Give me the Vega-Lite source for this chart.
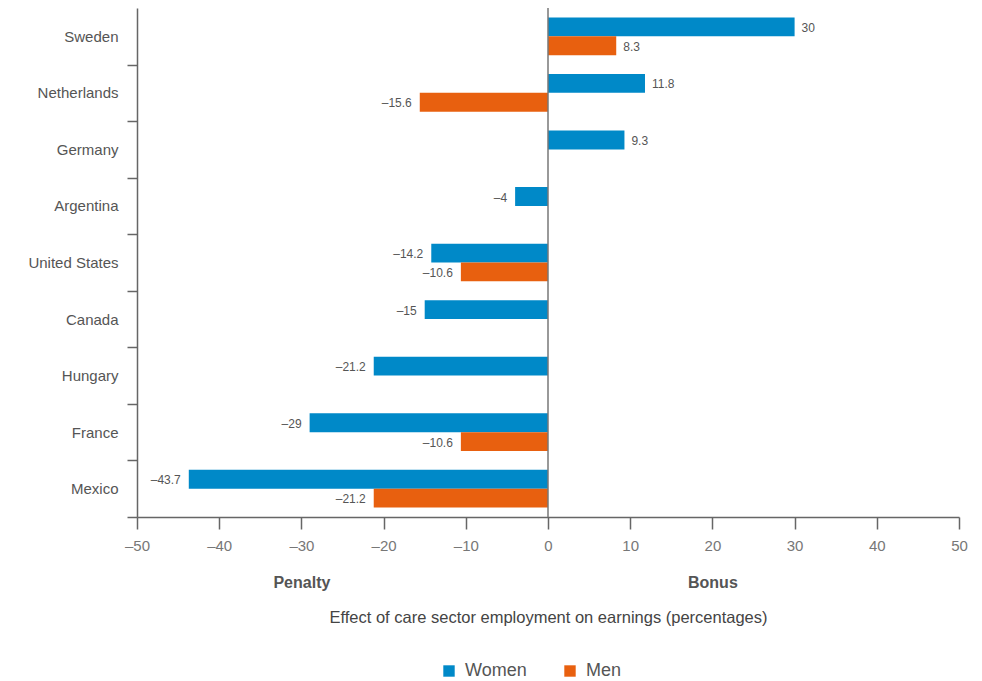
{
  "$schema": "https://vega.github.io/schema/vega-lite/v6.json",
  "width": 822,
  "height": 509,
  "autosize": "none",
  "padding": {"left": 137, "top": 8, "right": 23, "bottom": 164},
  "background": "white",
  "config": {
    "view": {"stroke": null},
    "font": "Liberation Sans",
    "locale": {
      "number": {"decimal": ".", "thousands": ",", "grouping": [3], "currency": ["$", ""], "minus": "–"}
    }
  },
  "data": {
    "values": [
      {"country": "Sweden", "sex": "Women", "value": 30},
      {"country": "Sweden", "sex": "Men", "value": 8.3},
      {"country": "Netherlands", "sex": "Women", "value": 11.8},
      {"country": "Netherlands", "sex": "Men", "value": -15.6},
      {"country": "Germany", "sex": "Women", "value": 9.3},
      {"country": "Argentina", "sex": "Women", "value": -4},
      {"country": "United States", "sex": "Women", "value": -14.2},
      {"country": "United States", "sex": "Men", "value": -10.6},
      {"country": "Canada", "sex": "Women", "value": -15},
      {"country": "Hungary", "sex": "Women", "value": -21.2},
      {"country": "France", "sex": "Women", "value": -29},
      {"country": "France", "sex": "Men", "value": -10.6},
      {"country": "Mexico", "sex": "Women", "value": -43.7},
      {"country": "Mexico", "sex": "Men", "value": -21.2}
    ]
  },
  "encoding": {
    "y": {
      "field": "country",
      "type": "nominal",
      "sort": ["Sweden", "Netherlands", "Germany", "Argentina", "United States", "Canada", "Hungary", "France", "Mexico"],
      "scale": {"paddingInner": 0, "paddingOuter": 0},
      "axis": {
        "title": null,
        "tickBand": "extent",
        "tickSize": 10,
        "tickColor": "#666",
        "tickWidth": 1.5,
        "tickOpacity": {"condition": {"test": "datum.extra", "value": 0}, "value": 1},
        "domainColor": "#666",
        "domainWidth": 1.5,
        "labelFontSize": 15,
        "labelColor": "#555",
        "labelPadding": 9
      }
    },
    "yOffset": {
      "field": "sex",
      "type": "nominal",
      "sort": ["Women", "Men"],
      "scale": {"paddingInner": 0, "paddingOuter": 0.5}
    }
  },
  "layer": [
    {
      "mark": {"type": "bar"},
      "encoding": {
        "x": {
          "field": "value",
          "type": "quantitative",
          "scale": {"domain": [-50, 50], "nice": false},
          "axis": {
            "title": null,
            "values": [-50, -40, -30, -20, -10, 0, 10, 20, 30, 40, 50],
            "grid": false,
            "labelFlush": false,
            "tickSize": 12,
            "tickColor": "#666",
            "tickWidth": 1.5,
            "domainColor": "#666",
            "domainWidth": 1.5,
            "labelFontSize": 15,
            "labelColor": "#777",
            "labelPadding": 9
          }
        },
        "color": {
          "field": "sex",
          "type": "nominal",
          "sort": ["Women", "Men"],
          "scale": {"domain": ["Women", "Men"], "range": ["#0089C8", "#E8600F"]},
          "legend": {
            "title": null,
            "orient": "none",
            "direction": "horizontal",
            "legendX": 303,
            "legendY": 654,
            "symbolType": "square",
            "symbolSize": 130,
            "symbolStrokeWidth": 0,
            "labelFontSize": 18,
            "labelColor": "#555",
            "labelOffset": 7,
            "columnPadding": 34
          }
        }
      }
    },
    {
      "transform": [{"filter": "datum.value >= 0"}],
      "mark": {"type": "text", "align": "left", "baseline": "middle", "dx": 7, "dy": 1, "fontSize": 12, "color": "#555"},
      "encoding": {
        "x": {"field": "value", "type": "quantitative", "axis": null},
        "text": {"field": "value", "type": "quantitative", "format": "~g"}
      }
    },
    {
      "transform": [{"filter": "datum.value < 0"}],
      "mark": {"type": "text", "align": "right", "baseline": "middle", "dx": -8, "dy": 1, "fontSize": 12, "color": "#555"},
      "encoding": {
        "x": {"field": "value", "type": "quantitative", "axis": null},
        "text": {"field": "value", "type": "quantitative", "format": "~g"}
      }
    },
    {
      "data": {"values": [{"zero": 0}]},
      "mark": {"type": "rule", "color": "#777", "strokeWidth": 1.5},
      "encoding": {
        "x": {
          "field": "zero",
          "type": "quantitative",
          "axis": {
            "orient": "bottom",
            "values": [-30, 20],
            "labelExpr": "datum.value < 0 ? 'Penalty' : 'Bonus'",
            "labelFlush": false,
            "domain": false,
            "ticks": false,
            "tickSize": 0,
            "grid": false,
            "labelFontSize": 16,
            "labelFontWeight": "bold",
            "labelColor": "#555",
            "labelPadding": 57,
            "title": "Effect of care sector employment on earnings (percentages)",
            "titleFontSize": 16.5,
            "titleFontWeight": "normal",
            "titleColor": "#444",
            "titlePadding": 19
          }
        },
        "y": {"value": 0},
        "y2": {"value": 509},
        "yOffset": {"value": 0}
      }
    }
  ],
  "resolve": {"axis": {"x": "independent"}}
}
